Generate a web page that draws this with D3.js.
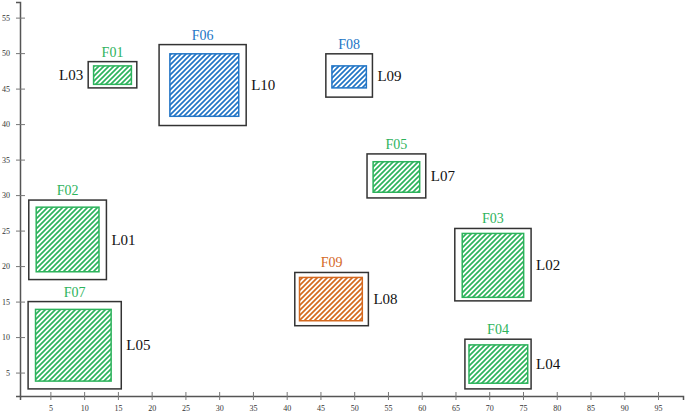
<!DOCTYPE html>
<html><head><meta charset="utf-8">
<script src="https://cdn.jsdelivr.net/npm/d3@7"></script>
<style>body{margin:0;background:#fff}svg{display:block}</style>
</head><body>
<svg id="c" width="685" height="414"></svg>
<script>
// ---- data ----
const xTicks = [5,10,15,20,25,30,35,40,45,50,55,60,65,70,75,80,85,90,95];
const yTicks = [5,10,15,20,25,30,35,40,45,50,55];
// outer boxes: [x0, x1, y0, y1]
const outerNames = ["L01","L02","L03","L04","L05","L07","L08","L09","L10"];
const outerBoxes = [
  [1.8,13.3,18.1,29.3],
  [64.9,76.2,15.1,25.3],
  [10.6,17.8,45.1,48.8],
  [66.4,76.2,2.7,9.7],
  [1.7,15.5,2.7,15.0],
  [51.9,60.6,29.6,35.8],
  [41.2,52.1,11.6,19.1],
  [45.8,52.7,43.8,49.9],
  [21.1,34.0,39.8,51.2]
];
const outerLabelSide = ["right","right","left","right","right","right","right","right","right"];
// inner hatched boxes
const innerNames = ["F01","F02","F03","F04","F05","F06","F07","F08","F09"];
const innerBoxes = [
  [11.4,17.0,45.6,48.2],
  [2.9,12.2,19.2,28.3],
  [66.0,75.1,15.6,24.6],
  [67.0,75.7,3.5,8.9],
  [52.8,59.7,30.4,34.7],
  [22.7,32.9,41.1,49.9],
  [2.8,14.0,3.8,13.9],
  [46.7,51.8,45.1,48.2],
  [41.9,51.2,12.3,18.4]
];
const innerGroup = ["green","green","green","green","green","blue","green","blue","orange"];
const groupColors = {green:"#2db35c", blue:"#2275c6", orange:"#d4691f"};

// ---- scales ----
const x = d3.scaleLinear().domain([0.5, 98.7]).range([20, 683]);
const y = d3.scaleLinear().domain([1.7, 57.2]).range([396, 2]);
const svg = d3.select("#c");
const font = "Liberation Serif, DejaVu Serif, serif";

// hatch patterns
const defs = svg.append("defs");
Object.entries(groupColors).forEach(([k,c])=>{
  const p = defs.append("pattern").attr("id","h-"+k).attr("patternUnits","userSpaceOnUse")
    .attr("width",5).attr("height",5);
  p.append("path").attr("d","M-1,1 l2,-2 M0,5 l5,-5 M4,6 l2,-2")
    .attr("stroke",c).attr("stroke-width",1.7);
});

// axes
const xAxis = svg.append("g").attr("transform","translate(0,396)")
  .call(d3.axisBottom(x).tickValues(xTicks).tickSizeOuter(0).tickSize(4).tickPadding(6));
const yAxis = svg.append("g").attr("transform","translate(20,0)")
  .call(d3.axisLeft(y).tickValues(yTicks).tickSizeOuter(0).tickSize(4).tickPadding(6));
xAxis.selectAll(".tick line").attr("y1",-4).attr("y2",4);
yAxis.selectAll(".tick line").attr("x1",-4).attr("x2",5);
[xAxis,yAxis].forEach(a=>{
  a.attr("font-family",font);
  a.select(".domain").attr("stroke","#555").attr("stroke-width",1.5);
  a.selectAll(".tick line").attr("stroke","#777").attr("stroke-width",1);
  a.selectAll(".tick text").attr("font-size",8).attr("fill","#333");
});
xAxis.selectAll(".tick text").attr("dy","0.6em");

// outer boxes
outerBoxes.forEach((b,i)=>{
  svg.append("rect").attr("x",x(b[0])).attr("y",y(b[3]))
    .attr("width",x(b[1])-x(b[0])).attr("height",y(b[2])-y(b[3]))
    .attr("fill","#fff").attr("stroke","#333").attr("stroke-width",1.5);
  const left = outerLabelSide[i]==="left";
  svg.append("text").attr("x", left ? x(b[0])-5 : x(b[1])+5)
    .attr("y",(y(b[2])+y(b[3]))/2).attr("dy","0.35em")
    .attr("text-anchor", left ? "end" : "start")
    .attr("font-family",font).attr("font-size",15).attr("fill","#111")
    .text(outerNames[i]);
});
// inner boxes
innerBoxes.forEach((b,i)=>{
  const c = groupColors[innerGroup[i]];
  svg.append("rect").attr("x",x(b[0])).attr("y",y(b[3]))
    .attr("width",x(b[1])-x(b[0])).attr("height",y(b[2])-y(b[3]))
    .attr("fill","url(#h-"+innerGroup[i]+")").attr("stroke",c).attr("stroke-width",1.5);
});
// F labels centred above their outer box
innerBoxes.forEach((b,i)=>{
  const c = groupColors[innerGroup[i]];
  const o = outerBoxes.find(ob=>ob[0]<=b[0]&&ob[1]>=b[1]&&ob[2]<=b[2]&&ob[3]>=b[3]);
  svg.append("text").attr("x",(x(o[0])+x(o[1]))/2).attr("y",y(o[3])-5)
    .attr("text-anchor","middle").attr("font-family",font).attr("font-size",14)
    .attr("fill",c).text(innerNames[i]);
});
</script>
</body></html>
